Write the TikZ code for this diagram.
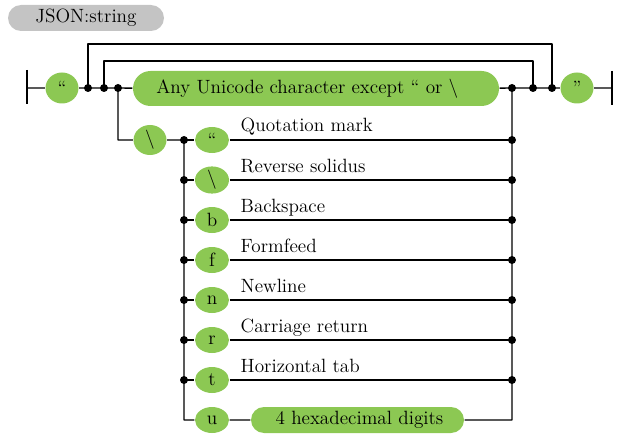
\documentclass[tikz,border=0pt]{standalone}
\usetikzlibrary{shapes.geometric,shapes.misc}
\definecolor{railgreen}{HTML}{8CC853}
\definecolor{titlegray}{HTML}{C4C4C4}
\begin{document}
\begin{tikzpicture}[x=.75pt,y=-.75pt,line width=1.1pt,line join=round,
 font=\fontsize{14.4}{17}\selectfont,
 term/.style={ellipse,fill=railgreen,inner sep=0pt,minimum width=24.75pt,minimum height=23.25pt},
 esc/.style={ellipse,fill=railgreen,inner sep=0pt,minimum width=25.5pt,minimum height=19.5pt},
 pill/.style={rounded rectangle,fill=railgreen,inner sep=0pt,minimum height=19.5pt}]
\useasboundingbox (0,0) rectangle (618,435);
\node[pill,fill=titlegray,minimum width=117pt] (title) at (86,18) {JSON:string};
\coordinate (startbar) at (27,88);
\coordinate (endbar) at (612,88);
\coordinate (j1) at (88,88);
\coordinate (j2) at (104,88);
\coordinate (j3) at (118,88);
\coordinate (k1) at (512,88);
\coordinate (k2) at (533,88);
\coordinate (k3) at (552,88);
\node[term] (open) at (62,88) {“};
\node[term] (close) at (577,88) {”};
\node[pill,minimum width=274.5pt,minimum height=26.25pt] (any) at (316,88.5)
 {Any Unicode character except “ or \textbackslash\hspace*{13pt}};
\node[term,minimum height=22.5pt] (bs) at (150,140) {\textbackslash};
\draw (startbar) ++(0,-18) -- ++(0,34);
\draw (endbar) ++(0,-17) -- ++(0,34);
\draw (startbar) -- (open) -- (j3) -- (any) -- (k1) -- (close) -- (endbar);
\draw (j1) -- ++(0,-44) -| (k3);
\draw (j2) -- ++(0,-27) -| (k2);
\coordinate (lu) at (184,420);
\coordinate (ru) at (512,420);
\foreach \ch/\txt [count=\k] in {“/Quotation mark,\textbackslash/Reverse solidus,
 b/Backspace,f/Formfeed,n/Newline,r/Carriage return,t/Horizontal tab}{
 \pgfmathsetmacro\y{100+40*\k}
 \coordinate (l\k) at (184,\y);
 \coordinate (r\k) at (512,\y);
 \node[esc] (c\k) at (212,\y) {\ch};
 \node[anchor=base west,inner sep=0pt] (t\k) at (240,\y-8) {\txt};
 \draw (l\k) -- (c\k) -- (r\k);
 \fill (l\k) circle[radius=3pt] (r\k) circle[radius=3pt];
}
\node[esc] (cu) at (212,420) {u};
\node[pill,minimum width=159.75pt] (hex) at (357.5,420) {\hspace*{3pt}4 hexadecimal digits};
\draw (j3) |- (bs) -- (l1) -- (lu) -- (cu) -- (hex) -- (ru) -- (k1);
\foreach \a in {j1,j2,j3,k1,k2,k3}{\fill (\a) circle[radius=3pt];}
\end{tikzpicture}
\end{document}
